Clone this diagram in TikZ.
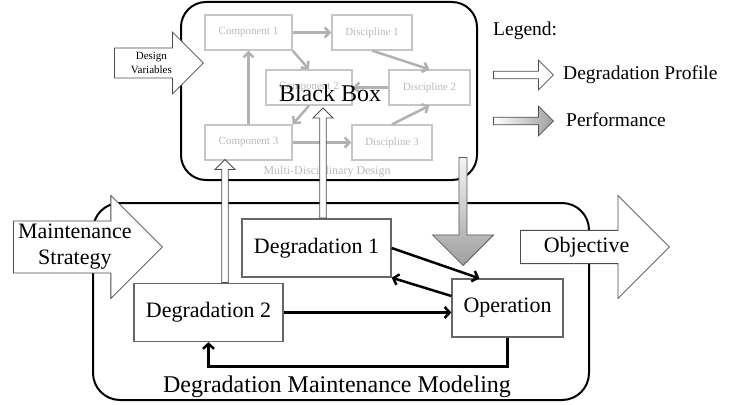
\documentclass[tikz,border=0pt]{standalone}
\usepackage{fontspec}
\setmainfont{Liberation Serif}
\usetikzlibrary{shapes.arrows,arrows.meta,calc}
\tikzset{
  sub/.style={draw=gray!45,line width=1.2pt,text=gray!55,minimum height=35pt,font=\fontsize{11}{13}\selectfont},
  subarr/.style={draw=gray!60,line width=2.5pt,-{Straight Barb[length=5pt,width=10pt]}},
  blk/.style={draw=black!60,line width=1.3pt,minimum width=149pt,minimum height=58pt,font=\fontsize{22}{26}\selectfont},
  link/.style={line width=2.5pt,-{Straight Barb[length=5pt,width=11pt]}},
  fat/.style={single arrow,draw=black!70,line width=0.8pt,fill=white,inner sep=2pt,single arrow head indent=0pt},
}
\begin{document}
\begin{tikzpicture}[x=1pt,y=-1pt]
  \useasboundingbox (0,0) rectangle (733,404);
  \node[draw,line width=2pt,rounded corners=25pt,minimum width=296pt,minimum height=178pt] (bbox) at (329,91) {};
  \node[draw,line width=2pt,rounded corners=27pt,minimum width=496pt,minimum height=197pt] (model) at (341,301.5) {};

  \node[sub,minimum width=87pt] (c1) at (248.5,32.5) {Component 1};
  \node[sub,minimum width=80pt] (d1) at (372,32.5) {Discipline 1};
  \node[sub,minimum width=86pt] (c2) at (309,87.5) {Component 2};
  \node[sub,minimum width=81pt] (d2) at (429.5,87.5) {Discipline 2};
  \node[sub,minimum width=87pt] (c3) at (248.5,142.5) {Component 3};
  \node[sub,minimum width=80pt] (d3) at (392,142.5) {Discipline 3};
  \draw[subarr] (c1) -- (d1);
  \draw[subarr] (c1.south east) -- (c2.north);
  \draw[subarr] (d1.south) -- (d2.north);
  \draw[subarr] (d2) -- (c2);
  \draw[subarr] (c2.south) -- (c3.north east);
  \draw[subarr] (c3) -- (c1);
  \draw[subarr] (c3) -- (d3);
  \draw[subarr] (d3.north) -- (d2.south);
  \node[font=\fontsize{24}{28}\selectfont] (blackbox) at (330,93) {Black Box};
  \node[text=gray!55,font=\fontsize{12}{14}\selectfont] (mdd) at (327,172) {Multi-Disciplinary Design};

  \node[blk] (deg1) at (316.5,248) {Degradation 1};
  \node[blk] (deg2) at (208.5,312.5) {Degradation 2};
  \node[blk,minimum width=111pt] (op) at (507.5,308) {Operation};
  \draw[link] (deg1.east) -- ($(op.north west)!.25!(op.north east)$);
  \draw[link] ([yshift=12pt]op.west) -- (deg1.south east);
  \draw[link] (deg2.east) -- (deg2.east -| op.west);
  \draw[link] (op.south) -- ++(0,29) -| (deg2.south);
  \node[font=\fontsize{24}{28}\selectfont] (modeling) at (337,387) {Degradation Maintenance Modeling};

  \node[fat,minimum height=89pt,minimum width=62pt,single arrow head extend=14pt,anchor=tail,font=\fontsize{11}{14}\selectfont,align=center] (vars) at (114,63) {Design\\Variables};
  \node[fat,minimum height=149pt,minimum width=103pt,single arrow head extend=24.5pt,anchor=tail,font=\fontsize{22}{26}\selectfont,align=center] (strategy) at (13,247) {Maintenance\\Strategy};
  \node[fat,minimum height=149pt,minimum width=103pt,single arrow head extend=26pt,anchor=tail,font=\fontsize{22}{26}\selectfont] (objective) at (520,247) {Objective};
  \node[fat,minimum height=123pt,minimum width=20pt,single arrow head extend=5pt,shape border rotate=90,anchor=tail] (prof2) at ([xshift=16.5pt]deg2.north) {};
  \node[fat,minimum height=110pt,minimum width=20pt,single arrow head extend=5pt,shape border rotate=90,anchor=tail] (prof1) at ([xshift=6.5pt]deg1.north) {};
  \node[fat,draw=black!65,top color=gray!8,bottom color=gray!75,minimum height=108pt,minimum width=61pt,single arrow head extend=15.5pt,shape border rotate=270,anchor=tip] (perf) at (463,266) {};

  \node[anchor=west,inner sep=0pt,font=\fontsize{19.5}{23}\selectfont] (legend) at (493,31) {Legend:};
  \node[fat,minimum height=60pt,minimum width=30pt,single arrow head extend=7pt,anchor=tail] (keyprof) at (493,75) {};
  \node[fat,left color=white,right color=gray!75,minimum height=60pt,minimum width=30pt,single arrow head extend=7pt,anchor=tail] (keyperf) at (493,121) {};
  \node[anchor=west,inner sep=0pt,font=\fontsize{19.5}{23}\selectfont] (profile) at (563,75) {Degradation Profile};
  \node[anchor=west,inner sep=0pt,font=\fontsize{19.5}{23}\selectfont] (performance) at (566,120) {Performance};
\end{tikzpicture}
\end{document}
